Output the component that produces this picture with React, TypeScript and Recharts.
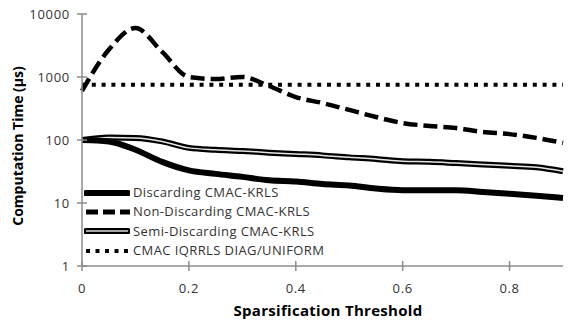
import React from "react";
import { LineChart, Line, XAxis, YAxis } from "recharts";

const xValues = [0, 0.05, 0.1, 0.15, 0.2, 0.25, 0.3, 0.35, 0.4, 0.45, 0.5, 0.55, 0.6, 0.65, 0.7, 0.75, 0.8, 0.85, 0.9];
const discarding = [100, 95, 70, 45, 33, 29, 26, 23, 22, 20, 19, 17, 16, 16, 16, 15, 14, 13, 12];
const nonDiscarding = [600, 2700, 6000, 2500, 1000, 930, 1000, 720, 480, 387, 300, 232, 186, 167, 155, 134, 124, 108, 90];
const semiDiscarding = [100, 110, 108, 95, 75, 70, 67, 63, 60, 57, 53, 50, 46, 45, 43, 41, 39, 37, 32];
const iqrrls = [750, 750, 750, 750, 750, 750, 750, 750, 750, 750, 750, 750, 750, 750, 750, 750, 750, 750, 750];

const seriesNames = [
  "Discarding CMAC-KRLS",
  "Non-Discarding CMAC-KRLS",
  "Semi-Discarding CMAC-KRLS",
  "CMAC IQRRLS DIAG/UNIFORM",
];
const xTicks = [0, 0.2, 0.4, 0.6, 0.8];
const yTicks = [1, 10, 100, 1000, 10000];
const xTitle = "Sparsification Threshold";
const yTitle = "Computation Time (µs)";

const data = xValues.map((x, i) => ({
  x,
  discarding: discarding[i],
  nonDiscarding: nonDiscarding[i],
  semi: semiDiscarding[i],
  iqrrls: iqrrls[i],
}));

const FONT = "'Open Sans', 'Liberation Sans', sans-serif";
const AXIS = "#8c8c8c";
const TEXT = "#333";

const XTick = (props: any) => {
  const { x, y, payload } = props;
  return (
    <g>
      <line x1={x} x2={x} y1={y - 5} y2={y + 5} stroke={AXIS} strokeWidth={1.5} />
      <text x={x} y={y + 27} textAnchor="middle" fontFamily={FONT} fontSize={13} letterSpacing={0.6} fill={TEXT}>
        {payload.value}
      </text>
    </g>
  );
};

const YTick = (props: any) => {
  const { x, y, payload } = props;
  return (
    <g>
      <line x1={x - 5} x2={x + 5} y1={y} y2={y} stroke={AXIS} strokeWidth={1.5} />
      <text x={x - 12} y={y} dy="0.35em" textAnchor="end" fontFamily={FONT} fontSize={13} letterSpacing={0.7} fill={TEXT}>
        {payload.value}
      </text>
    </g>
  );
};

const LegendSample = ({ idx }: { idx: number }) => {
  const w = 46;
  if (idx === 0)
    return (
      <svg width={w} height={12}>
        <line x1={2} x2={w - 2} y1={6} y2={6} stroke="#000" strokeWidth={6} strokeLinecap="round" />
      </svg>
    );
  if (idx === 1)
    return (
      <svg width={w} height={12}>
        <line x1={2} x2={w} y1={6} y2={6} stroke="#000" strokeWidth={5} strokeDasharray="12 5" />
      </svg>
    );
  if (idx === 2)
    return (
      <svg width={w} height={12}>
        <line x1={2} x2={w - 2} y1={6} y2={6} stroke="#000" strokeWidth={6} strokeLinecap="round" />
        <line x1={2} x2={w - 2} y1={6} y2={6} stroke="#ddd" strokeWidth={1.5} />
      </svg>
    );
  return (
    <svg width={w} height={12}>
      <line x1={2} x2={w} y1={6} y2={6} stroke="#000" strokeWidth={4} strokeDasharray="4 5.5" />
    </svg>
  );
};

export default function App() {
  return (
    <div style={{ position: "absolute", left: 0, top: 0, width: 568, height: 327, background: "#fff" }}>
      <LineChart width={568} height={327} data={data} margin={{ top: 14, right: 5, left: 0, bottom: 31 }}>
        <XAxis
          dataKey="x"
          type="number"
          domain={[0, 0.9]}
          ticks={xTicks}
          tick={<XTick />}
          tickLine={false}
          tickSize={0}
          tickMargin={0}
          height={30}
          axisLine={{ stroke: AXIS, strokeWidth: 1.5 }}
          interval={0}
        />
        <YAxis
          scale="log"
          domain={[1, 10000]}
          ticks={yTicks}
          tick={<YTick />}
          tickLine={false}
          tickSize={0}
          tickMargin={0}
          width={82}
          axisLine={{ stroke: AXIS, strokeWidth: 1.5 }}
          allowDataOverflow
          interval={0}
        />
        <Line dataKey="iqrrls" stroke="#000" strokeWidth={4} strokeDasharray="4 5.8" dot={false} isAnimationActive={false} type="monotone" />
        <Line dataKey="nonDiscarding" stroke="#000" strokeWidth={4.5} strokeDasharray="14 6" dot={false} isAnimationActive={false} type="monotone" />
        <Line dataKey="semi" stroke="#000" strokeWidth={6} dot={false} isAnimationActive={false} type="monotone" />
        <Line dataKey="semi" stroke="#e6e6e6" strokeWidth={1.5} dot={false} isAnimationActive={false} type="monotone" />
        <Line dataKey="discarding" stroke="#000" strokeWidth={6} dot={false} isAnimationActive={false} type="monotone" />
      </LineChart>
      <svg width={568} height={327} style={{ position: "absolute", left: 0, top: 0, pointerEvents: "none" }}>
        <text x={328} y={316} textAnchor="middle" fontFamily={FONT} fontSize={15} letterSpacing={0.3} fontWeight="bold" fill="#000">
          {xTitle}
        </text>
        <text
          x={17}
          y={146}
          textAnchor="middle"
          dominantBaseline="central"
          transform="rotate(-90 17 146)"
          fontFamily={FONT}
          fontSize={14}
          fontWeight="bold"
          fill="#000"
        >
          {yTitle}
        </text>
      </svg>
      <div style={{ position: "absolute", left: 84, top: 183, fontFamily: FONT, fontSize: 13, letterSpacing: 0.4, color: TEXT, lineHeight: "19.4px" }}>
        {seriesNames.map((n, i) => (
          <div key={n} style={{ display: "flex", alignItems: "center", height: 19.4, whiteSpace: "nowrap" }}>
            <LegendSample idx={i} />
            <span style={{ marginLeft: 3 }}>{n}</span>
          </div>
        ))}
      </div>
    </div>
  );
}
